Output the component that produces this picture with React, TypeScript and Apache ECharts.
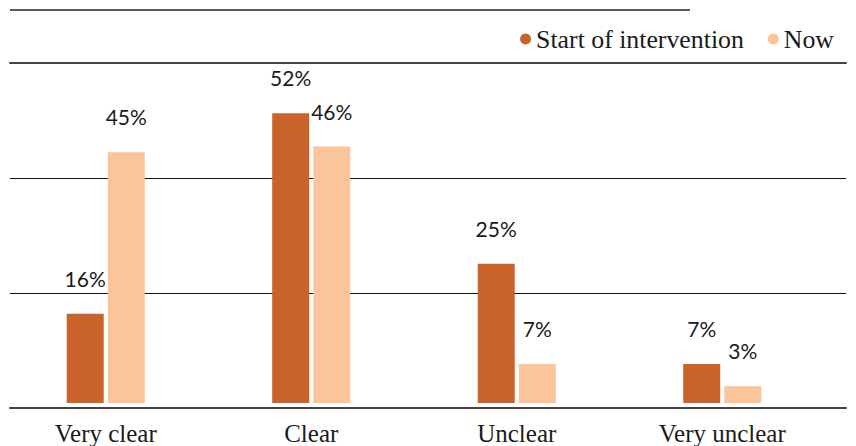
import React, { useEffect, useRef } from "react";
import * as echarts from "echarts";

const categories = ["Very clear", "Clear", "Unclear", "Very unclear"];
const startValues = [16, 52, 25, 7];
const nowValues = [45, 46, 7, 3];
const seriesNames = ["Start of intervention", "Now"];
const colors = ["#CA6329", "#FCC499"];

export default function App() {
  const ref = useRef<HTMLDivElement>(null);
  useEffect(() => {
    if (!ref.current) return;
    const chart = echarts.init(ref.current, undefined, { renderer: "svg" });
    const labelStyle = {
      show: true,
      position: "top",
      distance: 25,
      formatter: "{c}%",
      fontFamily: "Lato",
      fontSize: 21,
      color: "#1a1a1a",
    };
    chart.setOption({
      animation: false,
      backgroundColor: "#ffffff",
      legend: {
        right: 17,
        top: 21,
        icon: "circle",
        itemWidth: 11,
        itemHeight: 11,
        itemGap: 24,
        textStyle: { fontFamily: "Liberation Serif", fontSize: 25.8, color: "#1a1a1a" },
        data: seriesNames,
      },
      graphic: [
        {
          type: "line",
          shape: { x1: 10, y1: 10, x2: 690, y2: 10 },
          style: { stroke: "#222", lineWidth: 1.5 },
        },
      ],
      grid: [
        { left: 10, right: 10, top: 63, bottom: 38 },
        { left: 3, right: 31, top: 63, bottom: 38 },
      ],
      xAxis: [
        {
          gridIndex: 0,
          type: "category",
          data: categories,
          position: "bottom",
          axisLine: { show: true, lineStyle: { color: "#444", width: 2 } },
          axisTick: { show: false },
          axisLabel: { show: false },
        },
        {
          gridIndex: 0,
          type: "category",
          data: categories,
          position: "top",
          axisLine: { show: true, lineStyle: { color: "#444", width: 2 } },
          axisTick: { show: false },
          axisLabel: { show: false },
        },
        {
          gridIndex: 1,
          type: "category",
          data: categories,
          axisLine: { show: false },
          axisTick: { show: false },
          axisLabel: {
            fontFamily: "Liberation Serif",
            fontSize: 25,
            color: "#1a1a1a",
            margin: 18,
          },
        },
      ],
      yAxis: [
        {
          gridIndex: 0,
          type: "value",
          min: 0,
          max: 60,
          interval: 20,
          axisLabel: { show: false },
          axisLine: { show: false },
          axisTick: { show: false },
          splitLine: { show: true, lineStyle: { color: "#111", width: 1 } },
        },
        {
          gridIndex: 1,
          type: "value",
          min: 0,
          max: 61,
          show: false,
          splitLine: { show: false },
        },
      ],
      series: [
        {
          name: seriesNames[0],
          type: "bar",
          xAxisIndex: 2,
          yAxisIndex: 1,
          data: startValues,
          barWidth: 37,
          barGap: "11%",
          itemStyle: { color: colors[0] },
          label: labelStyle,
        },
        {
          name: seriesNames[1],
          type: "bar",
          xAxisIndex: 2,
          yAxisIndex: 1,
          data: nowValues,
          barWidth: 37,
          barGap: "11%",
          itemStyle: { color: colors[1] },
          label: labelStyle,
        },
      ],
    });
    return () => chart.dispose();
  }, []);
  return (
    <div
      ref={ref}
      style={{ position: "fixed", left: 0, top: 0, width: 856, height: 446 }}
    />
  );
}
